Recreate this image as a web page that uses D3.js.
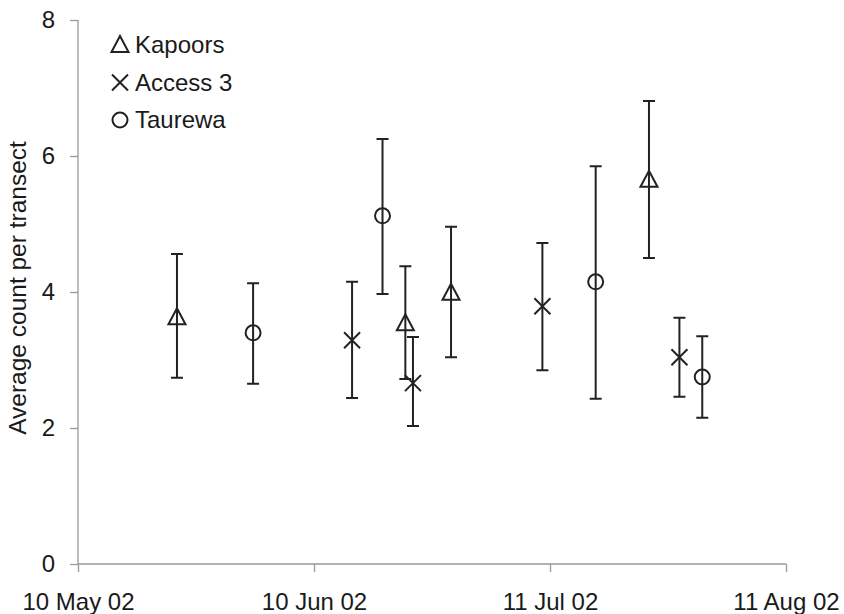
<!DOCTYPE html>
<html>
<head>
<meta charset="utf-8">
<script src="https://cdn.jsdelivr.net/npm/d3@7"></script>
<style>
  body { margin: 0; background: #fff; }
  svg text { font-family: "Liberation Sans", Arial, sans-serif; fill: #1a1a1a; }
</style>
</head>
<body>
<div id="chart"></div>
<script>
// series
var seriesNames = ["Kapoors", "Access 3", "Taurewa"];
var seriesSymbols = ["triangle", "cross", "circle"];

var kapoorsDates = ["2002-05-23", "2002-06-22", "2002-06-28", "2002-07-24"];
var kapoorsMean = [3.63, 3.54, 3.99, 5.65];
var kapoorsHigh = [4.56, 4.38, 4.96, 6.81];
var kapoorsLow = [2.74, 2.72, 3.04, 4.50];

var accessDates = ["2002-06-15", "2002-06-23", "2002-07-10", "2002-07-28"];
var accessMean = [3.29, 2.66, 3.79, 3.04];
var accessHigh = [4.15, 3.34, 4.72, 3.62];
var accessLow = [2.44, 2.03, 2.85, 2.46];

var taurewaDates = ["2002-06-02", "2002-06-19", "2002-07-17", "2002-07-31"];
var taurewaMean = [3.40, 5.12, 4.15, 2.75];
var taurewaHigh = [4.13, 6.25, 5.85, 3.35];
var taurewaLow = [2.65, 3.97, 2.43, 2.15];

var xTickDates = ["2002-05-10", "2002-06-10", "2002-07-11", "2002-08-11"];
var yTicks = [0, 2, 4, 6, 8];

var width = 844, height = 614;
var parse = d3.utcParse("%Y-%m-%d");
var fmt = d3.utcFormat("%-d %b %y");

var x = d3.scaleUtc()
  .domain([parse(xTickDates[0]), parse(xTickDates[3])])
  .range([78, 786]);
var y = d3.scaleLinear().domain([0, 8]).range([564, 20]);

var svg = d3.select("#chart").append("svg")
  .attr("width", width)
  .attr("height", height);

// axes
var xAxis = d3.axisBottom(x)
  .tickValues(xTickDates.map(parse))
  .tickFormat(fmt)
  .tickSize(8)
  .tickPadding(21);
var gx = svg.append("g").attr("transform", "translate(0," + y(0) + ")").call(xAxis);

var yAxis = d3.axisLeft(y).tickValues(yTicks).tickSize(8).tickPadding(15);
var gy = svg.append("g").attr("transform", "translate(" + x.range()[0] + ",0)").call(yAxis);

[gx, gy].forEach(function(g) {
  g.select(".domain").attr("stroke", "#999").attr("stroke-width", 1.3);
  g.selectAll(".tick line").attr("stroke", "#999").attr("stroke-width", 1.3);
  g.selectAll(".tick text").attr("font-size", 24).attr("fill", "#1a1a1a");
});
gx.select(".domain").attr("d", "M" + x.range()[0] + ",0H" + x.range()[1]);
gy.select(".domain").attr("d", "M0," + y.range()[0] + "V" + y.range()[1]);

svg.append("text")
  .attr("transform", "translate(26," + ((y(0) + y(8)) / 2 - 4) + ") rotate(-90)")
  .attr("text-anchor", "middle")
  .attr("font-size", 24.5)
  .text("Average count per transect");

// symbols
function drawSymbol(g, type, cx, cy) {
  var s = g.append("path")
    .attr("fill", "none")
    .attr("stroke", "#222")
    .attr("stroke-width", 2);
  if (type === "triangle") {
    s.attr("d", "M" + cx + "," + (cy - 9) + "L" + (cx + 8.5) + "," + (cy + 7) + "L" + (cx - 8.5) + "," + (cy + 7) + "Z");
  } else if (type === "cross") {
    s.attr("d", "M" + (cx - 8) + "," + (cy - 8) + "L" + (cx + 8) + "," + (cy + 8) +
      "M" + (cx + 8) + "," + (cy - 8) + "L" + (cx - 8) + "," + (cy + 8));
  } else {
    s.attr("d", d3.arc()({ innerRadius: 0, outerRadius: 7.5, startAngle: 0, endAngle: 2 * Math.PI }))
      .attr("transform", "translate(" + cx + "," + cy + ")");
  }
}

var series = [
  { dates: kapoorsDates, mean: kapoorsMean, high: kapoorsHigh, low: kapoorsLow },
  { dates: accessDates, mean: accessMean, high: accessHigh, low: accessLow },
  { dates: taurewaDates, mean: taurewaMean, high: taurewaHigh, low: taurewaLow }
];

var plot = svg.append("g");
series.forEach(function(s, k) {
  s.dates.forEach(function(d, i) {
    var px = x(parse(d));
    plot.append("path")
      .attr("fill", "none")
      .attr("stroke", "#222")
      .attr("stroke-width", 2)
      .attr("d",
        "M" + px + "," + y(s.high[i]) + "V" + y(s.low[i]) +
        "M" + (px - 6) + "," + y(s.high[i]) + "H" + (px + 6) +
        "M" + (px - 6) + "," + y(s.low[i]) + "H" + (px + 6));
    drawSymbol(plot, seriesSymbols[k], px, y(s.mean[i]));
  });
});

// legend
var legend = svg.append("g");
seriesNames.forEach(function(name, k) {
  var ly = 45 + k * 37.5;
  drawSymbol(legend, seriesSymbols[k], 120, ly);
  legend.append("text")
    .attr("x", 135)
    .attr("y", ly + 8)
    .attr("font-size", 24)
    .text(name);
});
</script>
</body>
</html>
